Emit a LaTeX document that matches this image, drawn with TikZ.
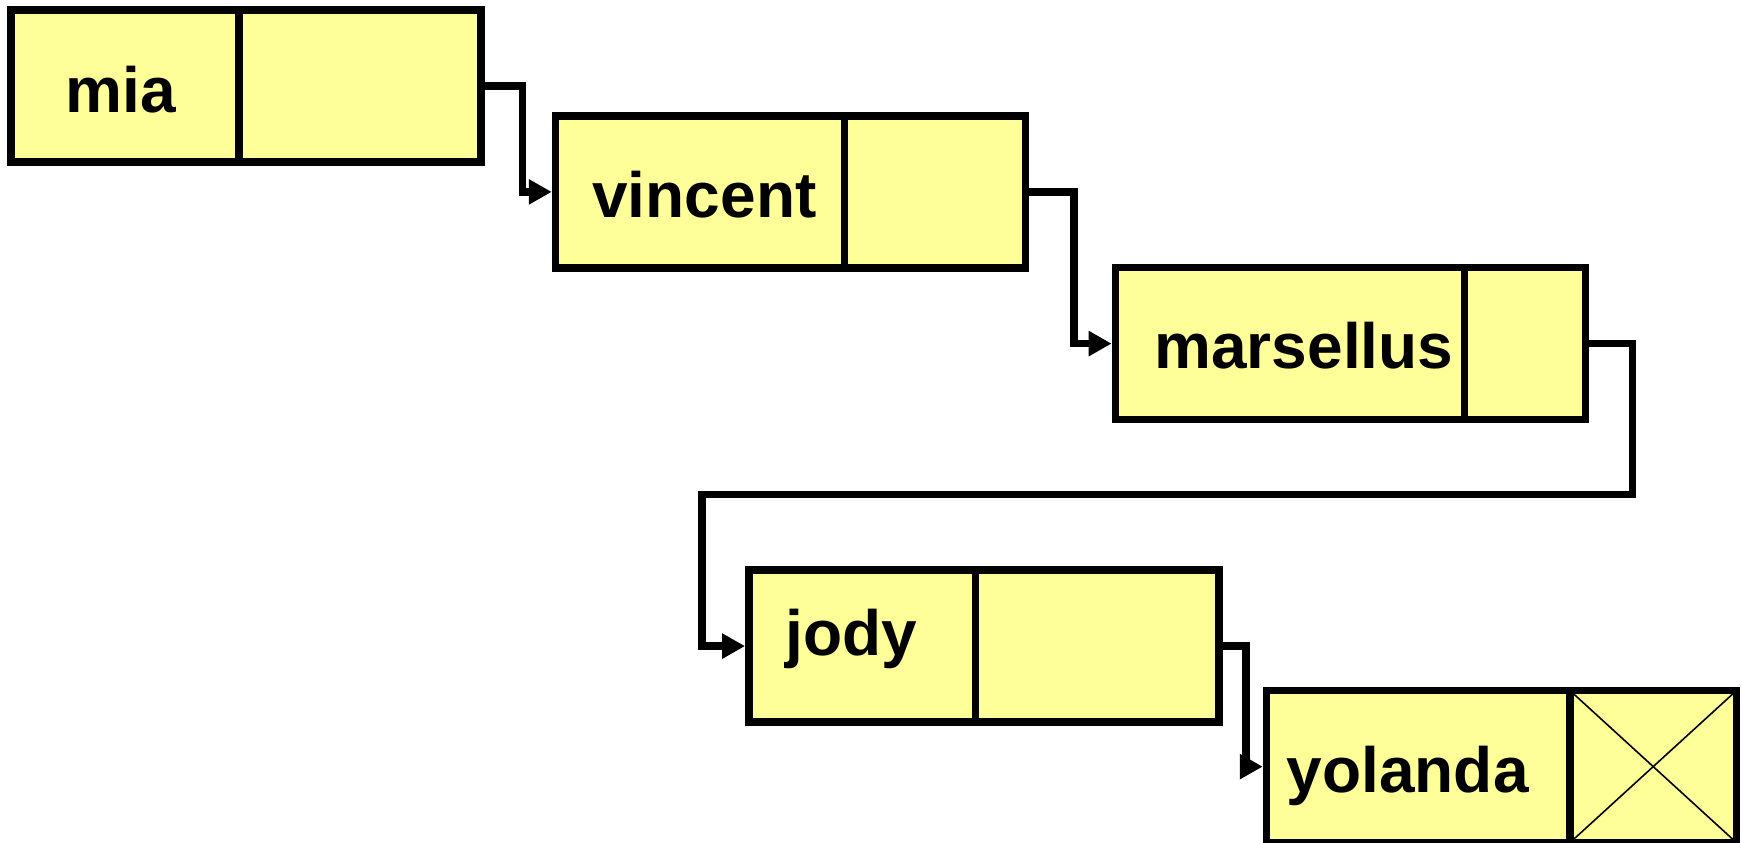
\documentclass[tikz,border=0pt]{standalone}
\usepackage{fontspec}
\setmainfont{Liberation Sans}
\usetikzlibrary{arrows.meta}
\definecolor{cellyellow}{RGB}{255,255,153}
\tikzset{
  cell/.style={draw=black, fill=cellyellow, line width=7.5bp, minimum width=470bp, minimum height=152.2bp, inner sep=0pt},
  divider/.style={draw=black, line width=7.5bp},
  nullx/.style={draw=black, line width=1.6bp},
  celltext/.style={anchor=base west, inner sep=0pt, font=\fontsize{64bp}{70bp}\selectfont\bfseries},
  conn/.style={draw=black, line width=7.5bp, line join=miter, -{Triangle[length=23bp,width=24bp]}}
}
\begin{document}
\begin{tikzpicture}[x=1bp,y=-1bp]
\useasboundingbox (0,0) rectangle (1742,843);
% cells
\node[cell] (mia) at (246.1,86.1) {};
\draw[divider] (238.9,10) -- (238.9,162.2);
\node[celltext] (miat) at (65.5,112.2) {mia};

\node[cell] (vincent) at (790.5,191.9) {};
\draw[divider] (844.4,115.8) -- (844.4,268);
\node[celltext] (vincentt) at (592.2,217.8) {vincent};

\node[cell] (marsellus) at (1350.4,343.6) {};
\draw[divider] (1464.3,267.5) -- (1464.3,419.7);
\node[celltext] (marsellust) at (1154.3,368.9) {marsellus};

\node[cell] (jody) at (983.8,646.1) {};
\draw[divider] (975.5,570) -- (975.5,722.2);
\node[celltext] (jodyt) at (785.5,655.5) {jody};

\node[cell] (yolanda) at (1501.5,766.6) {};
\draw[nullx] (1569.9,690.5) -- (1736.5,842.7);
\draw[nullx] (1569.9,842.7) -- (1736.5,690.5);
\draw[divider] (1569.9,690.5) -- (1569.9,842.7);
\node[celltext] (yolandat) at (1286.6,792.1) {yolanda};

% connectors
\coordinate (bend) at (702.2,494.4);
\draw[conn] (mia.east) -- ++(37.5,0) |- (vincent.west);
\draw[conn] (vincent.east) -- ++(44.8,0) |- (marsellus.west);
\draw[conn] (marsellus.east) -- ++(43.1,0) |- (bend) |- (jody.west);
\draw[conn] (jody.east) -- ++(23.3,0) |- (yolanda.west);
\end{tikzpicture}
\end{document}
